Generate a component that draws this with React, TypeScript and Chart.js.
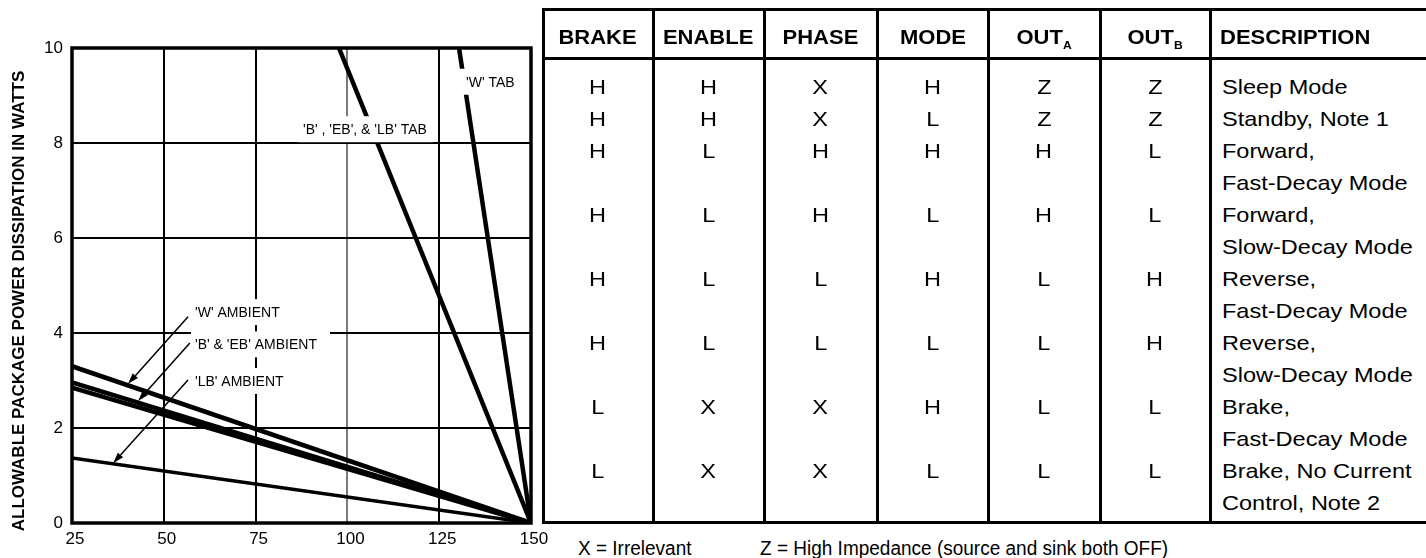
import React, { useEffect, useRef } from 'react';
import { Chart, registerables } from 'chart.js';

Chart.register(...registerables);

// ---------- chart data ----------
const X_TICKS = [25, 50, 75, 100, 125, 150];
const Y_TICKS = [0, 2, 4, 6, 8, 10];
const Y_TITLE = 'ALLOWABLE PACKAGE POWER DISSIPATION IN WATTS';

const W_TAB = [{ x: 130.4, y: 10 }, { x: 150, y: 0 }];
const B_EB_LB_TAB = [{ x: 97.7, y: 10 }, { x: 150, y: 0 }];
const W_AMBIENT = [{ x: 25, y: 3.3 }, { x: 150, y: 0 }];
const B_AMBIENT = [{ x: 25, y: 2.96 }, { x: 150, y: 0 }];
const EB_AMBIENT = [{ x: 25, y: 2.85 }, { x: 150, y: 0 }];
const LB_AMBIENT = [{ x: 25, y: 1.37 }, { x: 150, y: 0 }];

// annotation labels (data coordinates)
const LABEL_TEXT = ["'W' TAB", "'B' , 'EB', & 'LB' TAB", "'W' AMBIENT", "'B' & 'EB' AMBIENT", "'LB' AMBIENT"];
const LABEL_X = [132.3, 87.9, 58.5, 58.5, 58.5];
const LABEL_Y = [9.29, 8.29, 4.44, 3.76, 2.99];
const LABEL_PAD_L = [8, 5, 4, 4, 4];
const LABEL_PAD_R = [6, 6, 10, 13, 10];

// arrows (data coordinates): start -> tip
const ARROW_X0 = [56.6, 57.1, 56.6];
const ARROW_Y0 = [4.34, 3.79, 3.01];
const ARROW_X1 = [40.25, 43.0, 36.2];
const ARROW_Y1 = [2.93, 2.57, 1.26];

// ---------- table data ----------
const HEAD_MAIN = ['BRAKE', 'ENABLE', 'PHASE', 'MODE', 'OUT', 'OUT', 'DESCRIPTION'];
const HEAD_SUB = ['', '', '', '', 'A', 'B', ''];
const BRAKE = ['H', 'H', 'H', 'H', 'H', 'H', 'L', 'L'];
const ENABLE = ['H', 'H', 'L', 'L', 'L', 'L', 'X', 'X'];
const PHASE = ['X', 'X', 'H', 'H', 'L', 'L', 'X', 'X'];
const MODE = ['H', 'L', 'H', 'L', 'H', 'L', 'H', 'L'];
const OUT_A = ['Z', 'Z', 'H', 'H', 'L', 'L', 'L', 'L'];
const OUT_B = ['Z', 'Z', 'L', 'L', 'H', 'H', 'L', 'L'];
const DESCRIPTION = [
  ['Sleep Mode'],
  ['Standby, Note 1'],
  ['Forward,', 'Fast-Decay Mode'],
  ['Forward,', 'Slow-Decay Mode'],
  ['Reverse,', 'Fast-Decay Mode'],
  ['Reverse,', 'Slow-Decay Mode'],
  ['Brake,', 'Fast-Decay Mode'],
  ['Brake, No Current', 'Control, Note 2'],
];
const NOTES = ['X = Irrelevant', 'Z = High Impedance (source and sink both OFF)'];

// ---------- layout ----------
const FONT = '"Liberation Sans", Arial, Helvetica, sans-serif';
const COL_X = [543, 653, 764, 877, 988, 1100, 1210, 1480];
const TABLE_TOP = 9;
const HEAD_BOTTOM = 58;
const TABLE_BOTTOM = 522;
const LINE0 = 87;
const LINE_H = 32;
const CANVAS_W = 556;

const annotationPlugin = {
  id: 'annot',
  afterDatasetsDraw(chart: any) {
    const { ctx, chartArea, scales } = chart;
    const xs = scales.x;
    const ys = scales.y;
    ctx.save();
    ctx.font = `14px ${FONT}`;
    ctx.textBaseline = 'middle';
    ctx.textAlign = 'left';
    for (let i = 0; i < LABEL_TEXT.length; i++) {
      const px = xs.getPixelForValue(LABEL_X[i]);
      const py = ys.getPixelForValue(LABEL_Y[i]);
      const w = ctx.measureText(LABEL_TEXT[i]).width;
      ctx.fillStyle = '#fff';
      ctx.fillRect(px - LABEL_PAD_L[i], py - 13, w + LABEL_PAD_L[i] + LABEL_PAD_R[i], 26);
      ctx.fillStyle = '#000';
      ctx.fillText(LABEL_TEXT[i], px, py + 1);
    }
    // arrows
    ctx.strokeStyle = '#000';
    ctx.fillStyle = '#000';
    ctx.lineWidth = 1.5;
    for (let i = 0; i < ARROW_X0.length; i++) {
      const x0 = xs.getPixelForValue(ARROW_X0[i]);
      const y0 = ys.getPixelForValue(ARROW_Y0[i]);
      const x1 = xs.getPixelForValue(ARROW_X1[i]);
      const y1 = ys.getPixelForValue(ARROW_Y1[i]);
      const a = Math.atan2(y1 - y0, x1 - x0);
      const L = 11, H = 3.5;
      const bx = x1 - L * Math.cos(a), by = y1 - L * Math.sin(a);
      ctx.beginPath();
      ctx.moveTo(x0, y0);
      ctx.lineTo(bx, by);
      ctx.stroke();
      ctx.beginPath();
      ctx.moveTo(x1, y1);
      ctx.lineTo(bx + H * Math.sin(a), by - H * Math.cos(a));
      ctx.lineTo(bx - H * Math.sin(a), by + H * Math.cos(a));
      ctx.closePath();
      ctx.fill();
    }
    // plot frame
    ctx.lineWidth = 3.5;
    ctx.strokeRect(chartArea.left, chartArea.top, chartArea.right - chartArea.left, chartArea.bottom - chartArea.top);
    // y title
    ctx.translate(19, 301);
    ctx.rotate(-Math.PI / 2);
    ctx.font = `bold 17px ${FONT}`;
    ctx.textAlign = 'center';
    ctx.textBaseline = 'middle';
    ctx.fillText(Y_TITLE, 0, 0);
    ctx.restore();
  },
};

function line(label: string, data: { x: number; y: number }[], width: number) {
  return { label, data, borderColor: '#000', backgroundColor: '#000', borderWidth: width, pointRadius: 0, fill: false, tension: 0 };
}

function DeratingChart() {
  const ref = useRef<HTMLCanvasElement>(null);
  useEffect(() => {
    const chart = new Chart(ref.current as HTMLCanvasElement, {
      type: 'line',
      data: {
        datasets: [
          line("'W' TAB", W_TAB, 4.5),
          line("'B', 'EB', & 'LB' TAB", B_EB_LB_TAB, 4.5),
          line("'W' AMBIENT", W_AMBIENT, 4.5),
          line("'B' AMBIENT", B_AMBIENT, 4.5),
          line("'EB' AMBIENT", EB_AMBIENT, 4.5),
          line("'LB' AMBIENT", LB_AMBIENT, 3.5),
        ] as any,
      },
      options: {
        animation: false,
        responsive: false,
        events: [],
        layout: { padding: { left: 0, top: 48, right: CANVAS_W - 531, bottom: 0 } },
        plugins: { legend: { display: false }, tooltip: { enabled: false } },
        scales: {
          x: {
            type: 'linear',
            min: 25,
            max: 150,
            afterBuildTicks: (s: any) => { s.ticks = X_TICKS.map((v) => ({ value: v })); },
            afterFit: (s: any) => { s.height = 35; s.paddingLeft = 0; s.paddingRight = 0; },
            grid: {
              color: (c: any) => (c.tick && c.tick.value === 100 ? '#7a7a7a' : '#000'),
              lineWidth: 2,
              drawTicks: false,
            },
            border: { display: false },
            ticks: { color: '#000', font: { family: FONT, size: 17 }, padding: 6, labelOffset: 3, maxRotation: 0, autoSkip: false },
          },
          y: {
            type: 'linear',
            min: 0,
            max: 10,
            afterBuildTicks: (s: any) => { s.ticks = Y_TICKS.map((v) => ({ value: v })); },
            afterFit: (s: any) => { s.width = 72; s.paddingTop = 0; s.paddingBottom = 0; },
            grid: { color: '#000', lineWidth: 2, drawTicks: false },
            border: { display: false },
            ticks: { color: '#000', font: { family: FONT, size: 17 }, padding: 9, autoSkip: false },
          },
        },
      } as any,
      plugins: [annotationPlugin],
    });
    return () => chart.destroy();
  }, []);
  return <canvas ref={ref} width={CANVAS_W} height={558} style={{ position: 'absolute', left: 0, top: 0 }} />;
}

function TruthTable() {
  const cols = [BRAKE, ENABLE, PHASE, MODE, OUT_A, OUT_B];
  const starts: number[] = [];
  let acc = 0;
  DESCRIPTION.forEach((d) => { starts.push(acc); acc += d.length; });
  const elems: React.ReactNode[] = [];
  const right = 1426;
  [TABLE_TOP, HEAD_BOTTOM, TABLE_BOTTOM].forEach((y, i) => {
    elems.push(<div key={'h' + i} style={{ position: 'absolute', left: COL_X[0] - 1, top: y - 1.5, width: right - COL_X[0] + 1, height: 3, background: '#000' }} />);
  });
  for (let c = 0; c < 7; c++) {
    elems.push(<div key={'v' + c} style={{ position: 'absolute', left: COL_X[c] - 1, top: TABLE_TOP, width: 2.5, height: TABLE_BOTTOM - TABLE_TOP, background: '#000' }} />);
  }
  for (let c = 0; c < 7; c++) {
    const isDesc = c === 6;
    elems.push(
      <div key={'th' + c} style={{ position: 'absolute', left: COL_X[c] + (isDesc ? 10 : 0), top: 21, width: isDesc ? 300 : COL_X[c + 1] - COL_X[c], height: 32, lineHeight: '32px', textAlign: isDesc ? 'left' : 'center', fontWeight: 'bold', fontSize: 20, whiteSpace: 'nowrap' }}>
        <span style={{ display: 'inline-block', transform: 'scaleX(1.1)', transformOrigin: isDesc ? 'left center' : 'center' }}>
          {HEAD_MAIN[c]}
          {HEAD_SUB[c] ? <span style={{ fontSize: 11, position: 'relative', top: 5 }}>{HEAD_SUB[c]}</span> : null}
        </span>
      </div>
    );
  }
  cols.forEach((vals, c) => {
    vals.forEach((v, r) => {
      elems.push(
        <div key={`td${c}-${r}`} style={{ position: 'absolute', left: COL_X[c], top: LINE0 - LINE_H / 2 + starts[r] * LINE_H, width: COL_X[c + 1] - COL_X[c], height: LINE_H, lineHeight: LINE_H + 'px', textAlign: 'center', fontSize: 21 }}>
          <span style={{ display: 'inline-block', transform: 'scaleX(1.12)' }}>{v}</span>
        </div>
      );
    });
  });
  DESCRIPTION.forEach((lines, r) => {
    lines.forEach((t, k) => {
      elems.push(
        <div key={`d${r}-${k}`} style={{ position: 'absolute', left: COL_X[6] + 12, top: LINE0 - LINE_H / 2 + (starts[r] + k) * LINE_H, height: LINE_H, lineHeight: LINE_H + 'px', fontSize: 21, whiteSpace: 'nowrap' }}>
          <span style={{ display: 'inline-block', transform: 'scaleX(1.12)', transformOrigin: 'left center' }}>{t}</span>
        </div>
      );
    });
  });
  const noteX = [578, 760];
  NOTES.forEach((t, i) => {
    elems.push(
      <div key={'n' + i} style={{ position: 'absolute', left: noteX[i], top: 536, height: 24, lineHeight: '24px', fontSize: 20, whiteSpace: 'nowrap' }}>
        <span style={{ display: 'inline-block', transform: 'scaleX(0.95)', transformOrigin: 'left center' }}>{t}</span>
      </div>
    );
  });
  return <>{elems}</>;
}

export default function App() {
  return (
    <div style={{ position: 'absolute', left: 0, top: 0, width: 1426, height: 558, overflow: 'hidden', background: '#fff', fontFamily: FONT, color: '#000' }}>
      <DeratingChart />
      <TruthTable />
    </div>
  );
}
